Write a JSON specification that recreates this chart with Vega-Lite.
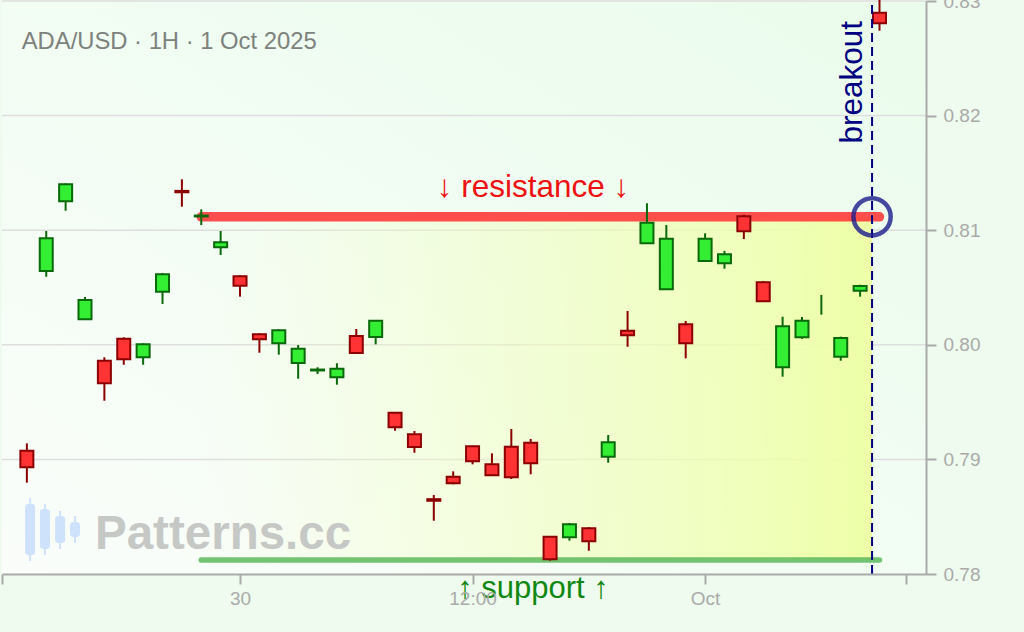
{
  "$schema": "https://vega.github.io/schema/vega-lite/v6.json",
  "width": 924,
  "height": 573,
  "autosize": {"type": "none"},
  "padding": {"left": 2, "top": 1, "right": 98, "bottom": 58},
  "background": "#eefbee",
  "view": {"stroke": "#dddddd"},
  "config": {"font": "Liberation Sans"},
  "datasets": {
    "candles": [
      {"t": "2025-09-29T13:00:00Z", "open": 0.79076, "high": 0.79140, "low": 0.78797, "close": 0.78931},
      {"t": "2025-09-29T14:00:00Z", "open": 0.80644, "high": 0.80993, "low": 0.80594, "close": 0.80929},
      {"t": "2025-09-29T15:00:00Z", "open": 0.81252, "high": 0.81409, "low": 0.81170, "close": 0.81400},
      {"t": "2025-09-29T16:00:00Z", "open": 0.80223, "high": 0.80417, "low": 0.80223, "close": 0.80391},
      {"t": "2025-09-29T17:00:00Z", "open": 0.79861, "high": 0.79891, "low": 0.79512, "close": 0.79664},
      {"t": "2025-09-29T18:00:00Z", "open": 0.80053, "high": 0.80065, "low": 0.79826, "close": 0.79873},
      {"t": "2025-09-29T19:00:00Z", "open": 0.79891, "high": 0.80013, "low": 0.79826, "close": 0.80004},
      {"t": "2025-09-29T20:00:00Z", "open": 0.80463, "high": 0.80627, "low": 0.80356, "close": 0.80615},
      {"t": "2025-09-29T21:00:00Z", "open": 0.81343, "high": 0.81444, "low": 0.81205, "close": 0.81331},
      {"t": "2025-09-29T22:00:00Z", "open": 0.81120, "high": 0.81182, "low": 0.81045, "close": 0.81128},
      {"t": "2025-09-29T23:00:00Z", "open": 0.80851, "high": 0.80993, "low": 0.80784, "close": 0.80894},
      {"t": "2025-09-30T00:00:00Z", "open": 0.80598, "high": 0.80606, "low": 0.80420, "close": 0.80516},
      {"t": "2025-09-30T01:00:00Z", "open": 0.80092, "high": 0.80100, "low": 0.79931, "close": 0.80048},
      {"t": "2025-09-30T02:00:00Z", "open": 0.80013, "high": 0.80135, "low": 0.79914, "close": 0.80127},
      {"t": "2025-09-30T03:00:00Z", "open": 0.79841, "high": 0.79998, "low": 0.79704, "close": 0.79966},
      {"t": "2025-09-30T04:00:00Z", "open": 0.79776, "high": 0.79804, "low": 0.79745, "close": 0.79784},
      {"t": "2025-09-30T05:00:00Z", "open": 0.79716, "high": 0.79839, "low": 0.79652, "close": 0.79791},
      {"t": "2025-09-30T06:00:00Z", "open": 0.80077, "high": 0.80138, "low": 0.79925, "close": 0.79928},
      {"t": "2025-09-30T07:00:00Z", "open": 0.80068, "high": 0.80215, "low": 0.80004, "close": 0.80210},
      {"t": "2025-09-30T08:00:00Z", "open": 0.79408, "high": 0.79412, "low": 0.79250, "close": 0.79280},
      {"t": "2025-09-30T09:00:00Z", "open": 0.79219, "high": 0.79248, "low": 0.79058, "close": 0.79108},
      {"t": "2025-09-30T10:00:00Z", "open": 0.78653, "high": 0.78689, "low": 0.78465, "close": 0.78639},
      {"t": "2025-09-30T11:00:00Z", "open": 0.78849, "high": 0.78896, "low": 0.78783, "close": 0.78791},
      {"t": "2025-09-30T12:00:00Z", "open": 0.79114, "high": 0.79117, "low": 0.78957, "close": 0.78983},
      {"t": "2025-09-30T13:00:00Z", "open": 0.78957, "high": 0.79053, "low": 0.78858, "close": 0.78861},
      {"t": "2025-09-30T14:00:00Z", "open": 0.79111, "high": 0.79265, "low": 0.78829, "close": 0.78844},
      {"t": "2025-09-30T15:00:00Z", "open": 0.79146, "high": 0.79178, "low": 0.78870, "close": 0.78966},
      {"t": "2025-09-30T16:00:00Z", "open": 0.78325, "high": 0.78328, "low": 0.78116, "close": 0.78128},
      {"t": "2025-09-30T17:00:00Z", "open": 0.78320, "high": 0.78445, "low": 0.78291, "close": 0.78434},
      {"t": "2025-09-30T18:00:00Z", "open": 0.78399, "high": 0.78408, "low": 0.78203, "close": 0.78285},
      {"t": "2025-09-30T19:00:00Z", "open": 0.79024, "high": 0.79213, "low": 0.78971, "close": 0.79149},
      {"t": "2025-09-30T20:00:00Z", "open": 0.80123, "high": 0.80295, "low": 0.79983, "close": 0.80083},
      {"t": "2025-09-30T21:00:00Z", "open": 0.80886, "high": 0.81235, "low": 0.80884, "close": 0.81065},
      {"t": "2025-09-30T22:00:00Z", "open": 0.80484, "high": 0.81045, "low": 0.80482, "close": 0.80926},
      {"t": "2025-09-30T23:00:00Z", "open": 0.80179, "high": 0.80208, "low": 0.79882, "close": 0.80013},
      {"t": "2025-10-01T00:00:00Z", "open": 0.80731, "high": 0.80973, "low": 0.80729, "close": 0.80926},
      {"t": "2025-10-01T01:00:00Z", "open": 0.80711, "high": 0.80819, "low": 0.80664, "close": 0.80790},
      {"t": "2025-10-01T02:00:00Z", "open": 0.81121, "high": 0.81135, "low": 0.80923, "close": 0.80990},
      {"t": "2025-10-01T03:00:00Z", "open": 0.80545, "high": 0.80557, "low": 0.80378, "close": 0.80380},
      {"t": "2025-10-01T04:00:00Z", "open": 0.79804, "high": 0.80245, "low": 0.79722, "close": 0.80161},
      {"t": "2025-10-01T05:00:00Z", "open": 0.80065, "high": 0.80243, "low": 0.80053, "close": 0.80210},
      {"t": "2025-10-01T06:00:00Z", "open": null, "high": 0.80435, "low": 0.80263, "close": null},
      {"t": "2025-10-01T07:00:00Z", "open": 0.79896, "high": 0.80071, "low": 0.79861, "close": 0.80059},
      {"t": "2025-10-01T08:00:00Z", "open": 0.80472, "high": 0.80524, "low": 0.80420, "close": 0.80513},
      {"t": "2025-10-01T09:00:00Z", "open": 0.82898, "high": 0.83020, "low": 0.82741, "close": 0.82805}
    ],
    "levels": [
      {"name": "resistance", "t0": "2025-09-29T22:00:00Z", "t1": "2025-10-01T09:00:00Z", "p": 0.81117},
      {"name": "support", "t0": "2025-09-29T22:00:00Z", "t1": "2025-10-01T09:00:00Z", "p": 0.78123}
    ],
    "logo": [
      {"t": "2025-09-29T13:10:00Z", "b0": 0.78166, "b1": 0.78611, "w0": 0.78113, "w1": 0.78663},
      {"t": "2025-09-29T13:56:00Z", "b0": 0.78218, "b1": 0.78567, "w0": 0.78166, "w1": 0.78611},
      {"t": "2025-09-29T14:43:00Z", "b0": 0.78271, "b1": 0.78506, "w0": 0.78218, "w1": 0.78550},
      {"t": "2025-09-29T15:29:00Z", "b0": 0.78323, "b1": 0.78454, "w0": 0.78271, "w1": 0.78506}
    ]
  },
  "layer": [
    {
      "data": {"values": [{"t0": "2025-09-29T11:43:00Z", "t1": "2025-10-01T11:24:00Z", "p0": 0.78, "p1": 0.83}]},
      "mark": {
        "type": "rect",
        "fill": {"gradient": "linear", "x1": 0, "y1": 1, "x2": 1, "y2": 0,
          "stops": [{"offset": 0, "color": "#fafdfa"}, {"offset": 1, "color": "#eafcec"}]}
      },
      "encoding": {
        "x": {
          "field": "t0", "type": "temporal", "title": null,
          "scale": {"type": "utc", "padding": 0, "domain": [
            {"year": 2025, "month": 9, "date": 29, "hours": 11, "minutes": 43, "utc": true},
            {"year": 2025, "month": 10, "date": 1, "hours": 11, "minutes": 24, "utc": true}]},
          "axis": {
            "values": [
              {"year": 2025, "month": 9, "date": 29, "hours": 11, "minutes": 43, "utc": true},
              {"year": 2025, "month": 9, "date": 30, "hours": 0, "utc": true},
              {"year": 2025, "month": 9, "date": 30, "hours": 12, "utc": true},
              {"year": 2025, "month": 10, "date": 1, "hours": 0, "utc": true},
              {"year": 2025, "month": 10, "date": 1, "hours": 10, "minutes": 22, "utc": true}],
            "labelExpr": "utchours(datum.value) == 12 && utcminutes(datum.value) == 0 ? '12:00' : (utchours(datum.value) == 0 && utcminutes(datum.value) == 0 ? (utcdate(datum.value) == 1 ? 'Oct' : '' + utcdate(datum.value)) : '')",
            "labelFontSize": 19, "labelColor": "#aaaaaa", "labelPadding": 5,
            "labelFlush": false, "labelOverlap": false,
            "tickSize": 10, "tickWidth": 2, "tickColor": "#aaaaaa",
            "domainColor": "#aaaaaa", "domainWidth": 2,
            "grid": false, "zindex": 1
          }
        },
        "x2": {"field": "t1"},
        "y": {
          "field": "p0", "type": "quantitative", "title": null,
          "scale": {"domain": [0.78, 0.83], "nice": false, "zero": false, "padding": 0},
          "axis": {
            "orient": "right", "values": [0.78, 0.79, 0.8, 0.81, 0.82, 0.83], "format": ".2f",
            "labelFontSize": 19, "labelColor": "#aaaaaa", "labelPadding": 7,
            "labelFlush": false, "labelOverlap": false,
            "tickSize": 10, "tickWidth": 2, "tickColor": "#aaaaaa",
            "domainColor": "#aaaaaa", "domainWidth": 2,
            "grid": false, "zindex": 1
          }
        },
        "y2": {"field": "p1"}
      }
    },
    {
      "data": {"values": [{"p": 0.79}, {"p": 0.80}, {"p": 0.81}, {"p": 0.82}, {"p": 0.83}]},
      "mark": {"type": "rule", "stroke": "#dedede", "strokeWidth": 1.5},
      "encoding": {"y": {"field": "p", "type": "quantitative"}}
    },
    {
      "data": {"values": [{"t0": "2025-09-29T21:45:00Z", "t1": "2025-10-01T08:37:00Z", "p0": 0.78123, "p1": 0.81117}]},
      "mark": {
        "type": "rect",
        "fill": {"gradient": "linear", "x1": 0, "y1": 0, "x2": 1, "y2": 0,
          "stops": [{"offset": 0, "color": "rgba(245,255,200,0)"}, {"offset": 1, "color": "rgba(238,255,168,1)"}]}
      },
      "encoding": {
        "x": {"field": "t0", "type": "temporal"},
        "x2": {"field": "t1"},
        "y": {"field": "p0", "type": "quantitative"},
        "y2": {"field": "p1"}
      }
    },
    {
      "data": {"name": "logo"},
      "mark": {"type": "rule", "stroke": "#cfe2fb", "strokeWidth": 2},
      "encoding": {
        "x": {"field": "t", "type": "temporal"},
        "y": {"field": "w0", "type": "quantitative"},
        "y2": {"field": "w1"}
      }
    },
    {
      "data": {"name": "logo"},
      "mark": {"type": "bar", "size": 10, "fill": "#cfe2fb", "cornerRadius": 3},
      "encoding": {
        "x": {"field": "t", "type": "temporal"},
        "y": {"field": "b0", "type": "quantitative"},
        "y2": {"field": "b1"}
      }
    },
    {
      "data": {"values": [{"t": "2025-09-29T16:31:00Z", "p": 0.78216, "label": "Patterns.cc"}]},
      "mark": {"type": "text", "align": "left", "baseline": "alphabetic", "fontSize": 47.5, "fontWeight": "bold", "fill": "#c6c8c6"},
      "encoding": {
        "x": {"field": "t", "type": "temporal"},
        "y": {"field": "p", "type": "quantitative"},
        "text": {"field": "label"}
      }
    },
    {
      "data": {"values": [{"t": "2025-09-29T12:44:00Z", "p": 0.82579, "label": "ADA/USD · 1H · 1 Oct 2025"}]},
      "mark": {"type": "text", "align": "left", "baseline": "alphabetic", "fontSize": 23.8, "fill": "#7d827d"},
      "encoding": {
        "x": {"field": "t", "type": "temporal"},
        "y": {"field": "p", "type": "quantitative"},
        "text": {"field": "label"}
      }
    },
    {
      "data": {"name": "levels"},
      "transform": [{"filter": "datum.name == 'support'"}],
      "mark": {"type": "rule", "stroke": "#5cb85c", "strokeOpacity": 0.85, "strokeWidth": 5.5, "strokeCap": "round"},
      "encoding": {
        "x": {"field": "t0", "type": "temporal"},
        "x2": {"field": "t1"},
        "y": {"field": "p", "type": "quantitative"}
      }
    },
    {
      "data": {"name": "levels"},
      "transform": [{"filter": "datum.name == 'resistance'"}],
      "mark": {"type": "rule", "stroke": "#ff3c3c", "strokeOpacity": 0.9, "strokeWidth": 9.5, "strokeCap": "round"},
      "encoding": {
        "x": {"field": "t0", "type": "temporal"},
        "x2": {"field": "t1"},
        "y": {"field": "p", "type": "quantitative"}
      }
    },
    {
      "data": {"name": "candles"},
      "mark": {"type": "rule", "strokeWidth": 2},
      "encoding": {
        "x": {"field": "t", "type": "temporal"},
        "y": {"field": "low", "type": "quantitative"},
        "y2": {"field": "high"},
        "stroke": {"condition": {"test": "datum.close >= datum.open", "value": "#0a690a"}, "value": "#8b0000"}
      }
    },
    {
      "data": {"name": "candles"},
      "mark": {"type": "bar", "size": 13, "strokeWidth": 2},
      "encoding": {
        "x": {"field": "t", "type": "temporal"},
        "y": {"field": "open", "type": "quantitative"},
        "y2": {"field": "close"},
        "fill": {"condition": {"test": "datum.close >= datum.open", "value": "#33ee33"}, "value": "#ff3333"},
        "stroke": {"condition": {"test": "datum.close >= datum.open", "value": "#0a690a"}, "value": "#8b0000"}
      }
    },
    {
      "data": {"values": [{"t": "2025-10-01T08:37:00Z", "p0": 0.78, "p1": 0.8301}]},
      "mark": {"type": "rule", "stroke": "#000080", "strokeWidth": 2, "strokeDash": [9, 5]},
      "encoding": {
        "x": {"field": "t", "type": "temporal"},
        "y": {"field": "p0", "type": "quantitative"},
        "y2": {"field": "p1"}
      }
    },
    {
      "data": {"values": [{"t": "2025-10-01T08:37:00Z", "p": 0.81117}]},
      "mark": {"type": "point", "shape": "circle", "filled": false, "size": 1385, "stroke": "#1c1c8c", "strokeWidth": 4.5, "opacity": 0.8},
      "encoding": {
        "x": {"field": "t", "type": "temporal"},
        "y": {"field": "p", "type": "quantitative"}
      }
    },
    {
      "data": {"values": [{"t": "2025-09-30T15:07:00Z", "p": 0.81292, "label": "↓ resistance ↓"}]},
      "mark": {"type": "text", "align": "center", "baseline": "alphabetic", "fontSize": 31.5, "fill": "#ee1111"},
      "encoding": {
        "x": {"field": "t", "type": "temporal"},
        "y": {"field": "p", "type": "quantitative"},
        "text": {"field": "label"}
      }
    },
    {
      "data": {"values": [{"t": "2025-09-30T15:07:00Z", "p": 0.77788, "label": "↑ support ↑"}]},
      "mark": {"type": "text", "align": "center", "baseline": "alphabetic", "fontSize": 31, "fill": "#118811"},
      "encoding": {
        "x": {"field": "t", "type": "temporal"},
        "y": {"field": "p", "type": "quantitative"},
        "text": {"field": "label"}
      }
    },
    {
      "data": {"values": [{"t": "2025-10-01T08:06:00Z", "p": 0.82291, "label": "breakout"}]},
      "mark": {"type": "text", "align": "center", "baseline": "alphabetic", "angle": 270, "fontSize": 31.5, "fill": "#000080"},
      "encoding": {
        "x": {"field": "t", "type": "temporal"},
        "y": {"field": "p", "type": "quantitative"},
        "text": {"field": "label"}
      }
    }
  ]
}
